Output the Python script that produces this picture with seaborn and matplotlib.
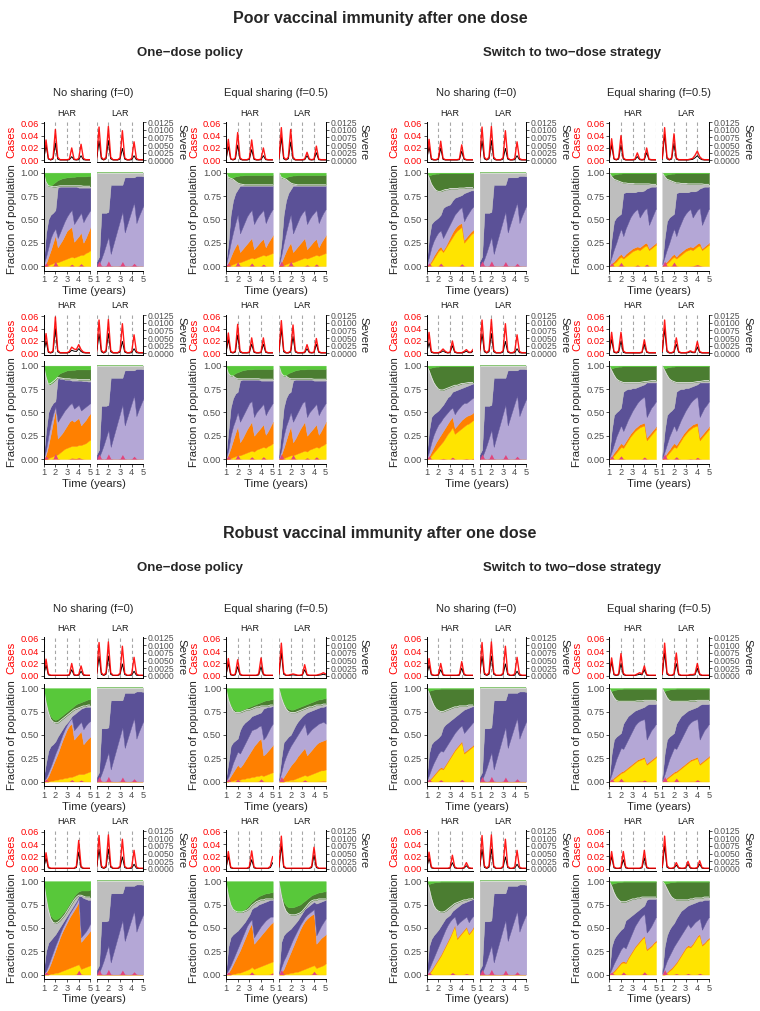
import matplotlib
matplotlib.use("Agg")
import matplotlib.pyplot as plt
from matplotlib.ticker import FormatStrFormatter
import seaborn as sns

# ---------------------------------------------------------------- data
years = [1.0, 1.2, 1.4, 1.6, 1.8, 2.0, 2.2, 2.4, 2.6, 2.8, 3.0,
         3.2, 3.4, 3.6, 3.8, 4.0, 4.2, 4.4, 4.6, 4.8, 5.0]

section_titles = ["Poor vaccinal immunity after one dose",
                  "Robust vaccinal immunity after one dose"]
policy_titles = ["One\u2212dose policy", "Switch to two\u2212dose strategy"]
sharing_titles = ["No sharing (f=0)", "Equal sharing (f=0.5)",
                  "No sharing (f=0)", "Equal sharing (f=0.5)"]
regions = ["HAR", "LAR"]
cases_ticks = [0.00, 0.02, 0.04, 0.06]
severe_ticks = [0.0, 0.0025, 0.005, 0.0075, 0.01, 0.0125]
frac_ticks = [0.0, 0.25, 0.5, 0.75, 1.0]
year_ticks = [1, 2, 3, 4, 5]

zeros = [0.0] * 21
no_green = [1.0] * 21
sliver = [1.0, 0.97, 0.98, 0.985, 0.99, 0.99, 0.995, 0.995, 0.995, 0.995, 0.995,
          0.995, 0.995, 0.995, 0.995, 0.995, 0.995, 0.995, 0.995, 0.995, 0.995]

# epidemic curves: cases (left axis) and severe (right axis)
# LAR without sharing (same in every no-sharing block)
cases_lar_nos = [.003, .054, .005, .001, .005, .055, .005, .001, .001, .001, .004,
                 .048, .004, .001, .001, .003, .030, .003, .001, .001, .001]
severe_lar_nos = [.0003, .0064, .0005, .0001, .0005, .0065, .0005, .0001, .0001, .0001, .0004,
                  .0039, .0004, .0001, .0001, .0002, .0015, .0002, .0001, .0001, .0001]
# poor immunity, row 1
cases_A_har = [.002, .033, .003, .001, .004, .050, .005, .001, .001, .001, .001,
               .002, .020, .002, .001, .003, .026, .003, .001, .001, .001]
severe_A_har = [.0002, .0050, .0004, .0001, .0004, .0056, .0004, .0001, .0001, .0001, .0001,
                .0002, .0012, .0002, .0001, .0002, .0015, .0002, .0001, .0001, .0001]
cases_B_har = [.002, .034, .003, .001, .004, .045, .004, .001, .001, .001, .003,
               .033, .003, .001, .001, .002, .020, .002, .001, .001, .001]
severe_B_har = [.0002, .0045, .0004, .0001, .0004, .0050, .0004, .0001, .0001, .0001, .0003,
                .0035, .0003, .0001, .0001, .0002, .0015, .0002, .0001, .0001, .0001]
cases_B_lar = [.003, .053, .005, .001, .005, .050, .005, .001, .001, .001, .001,
               .002, .013, .002, .001, .002, .023, .002, .001, .001, .001]
severe_B_lar = [.0003, .0075, .0005, .0001, .0005, .0060, .0005, .0001, .0001, .0001, .0001,
                .0002, .0015, .0002, .0001, .0002, .0025, .0002, .0001, .0001, .0001]
cases_C_har = [.002, .034, .003, .001, .001, .003, .031, .003, .001, .001, .001,
               .001, .001, .001, .002, .025, .003, .001, .001, .001, .001]
severe_C_har = [.0002, .0045, .0003, .0001, .0001, .0003, .0040, .0003, .0001, .0001, .0001,
                .0001, .0001, .0001, .0002, .0030, .0003, .0001, .0001, .0001, .0001]
cases_D_har = [.002, .035, .003, .001, .004, .040, .004, .001, .001, .001, .001,
               .002, .012, .002, .001, .002, .020, .002, .001, .001, .001]
severe_D_har = [.0002, .0050, .0004, .0001, .0004, .0050, .0004, .0001, .0001, .0001, .0001,
                .0002, .0012, .0002, .0001, .0002, .0025, .0002, .0001, .0001, .0001]
cases_D_lar = [.003, .053, .005, .001, .004, .043, .004, .001, .001, .001, .001,
               .001, .002, .003, .008, .015, .006, .002, .001, .001, .001]
severe_D_lar = [.0003, .0085, .0005, .0001, .0004, .0055, .0004, .0001, .0001, .0001, .0001,
                .0001, .0002, .0003, .0008, .0015, .0006, .0002, .0001, .0001, .0001]
# poor immunity, row 2
cases_E_har = [.002, .032, .003, .001, .004, .059, .005, .001, .001, .001, .001,
               .003, .010, .007, .006, .014, .006, .002, .001, .001, .001]
severe_E_har = [.0002, .0040, .0003, .0001, .0004, .0080, .0005, .0001, .0001, .0001, .0001,
                .0003, .0010, .0007, .0006, .0015, .0006, .0002, .0001, .0001, .0001]
cases_F_har = [.002, .033, .003, .001, .004, .047, .004, .001, .001, .001, .002,
               .025, .003, .001, .001, .002, .025, .003, .001, .001, .001]
severe_F_har = [.0002, .0045, .0003, .0001, .0004, .0060, .0004, .0001, .0001, .0001, .0002,
                .0030, .0003, .0001, .0001, .0002, .0030, .0003, .0001, .0001, .0001]
cases_F_lar = [.003, .053, .005, .001, .001, .004, .046, .004, .001, .001, .001,
               .002, .014, .002, .001, .002, .024, .003, .001, .001, .001]
severe_F_lar = [.0003, .0080, .0005, .0001, .0001, .0004, .0055, .0004, .0001, .0001, .0001,
                .0002, .0015, .0002, .0001, .0002, .0030, .0003, .0001, .0001, .0001]
cases_G_har = [.002, .034, .003, .001, .001, .001, .003, .007, .003, .001, .002,
               .020, .003, .001, .001, .001, .003, .006, .002, .002, .007]
severe_G_har = [.0002, .0035, .0003, .0001, .0001, .0001, .0003, .0008, .0003, .0001, .0002,
                .0025, .0003, .0001, .0001, .0001, .0003, .0007, .0002, .0002, .0008]
cases_H_har = [.002, .034, .003, .001, .004, .034, .004, .001, .001, .001, .001,
               .001, .001, .001, .002, .022, .003, .001, .001, .001, .001]
severe_H_har = [.0002, .0045, .0003, .0001, .0003, .0040, .0003, .0001, .0001, .0001, .0001,
                .0001, .0001, .0001, .0002, .0030, .0003, .0001, .0001, .0001, .0001]
cases_H_lar = [.003, .054, .005, .001, .001, .003, .025, .003, .001, .001, .001,
               .002, .004, .002, .002, .019, .003, .001, .001, .001, .001]
severe_H_lar = [.0003, .0080, .0005, .0001, .0001, .0003, .0030, .0003, .0001, .0001, .0001,
                .0002, .0005, .0002, .0002, .0020, .0003, .0001, .0001, .0001, .0001]
# robust immunity, row 1
cases_I_har = [.002, .027, .003, .001, .001, .001, .001, .001, .001, .001, .001,
               .002, .020, .002, .001, .002, .016, .002, .001, .001, .001]
severe_I_har = [.0002, .0035, .0003, .0001, .0001, .0001, .0001, .0001, .0001, .0001, .0001,
                .0002, .0020, .0002, .0001, .0002, .0015, .0002, .0001, .0001, .0001]
cases_J_har = [.002, .028, .003, .001, .003, .026, .003, .001, .001, .001, .001,
               .001, .001, .001, .003, .029, .003, .001, .001, .001, .001]
severe_J_har = [.0002, .0040, .0003, .0001, .0003, .0030, .0003, .0001, .0001, .0001, .0001,
                .0001, .0001, .0001, .0003, .0030, .0003, .0001, .0001, .0001, .0001]
cases_J_lar = [.003, .053, .005, .001, .001, .002, .003, .002, .001, .001, .002,
               .018, .002, .001, .001, .001, .001, .002, .003, .005, .003]
severe_J_lar = [.0003, .0075, .0005, .0001, .0001, .0002, .0003, .0002, .0001, .0001, .0002,
                .0020, .0002, .0001, .0001, .0001, .0001, .0002, .0003, .0005, .0003]
cases_K_har = [.002, .028, .003, .001, .001, .002, .020, .002, .001, .001, .001,
               .001, .001, .001, .002, .023, .003, .001, .001, .001, .001]
severe_K_har = [.0002, .0035, .0003, .0001, .0001, .0002, .0020, .0002, .0001, .0001, .0001,
                .0001, .0001, .0001, .0002, .0025, .0003, .0001, .0001, .0001, .0001]
cases_L_har = [.002, .029, .003, .001, .003, .036, .004, .001, .001, .001, .001,
               .001, .003, .005, .003, .016, .002, .001, .001, .001, .001]
severe_L_har = [.0002, .0045, .0003, .0001, .0003, .0040, .0004, .0001, .0001, .0001, .0001,
                .0001, .0003, .0005, .0003, .0020, .0002, .0001, .0001, .0001, .0001]
cases_L_lar = [.003, .053, .005, .001, .001, .003, .037, .003, .001, .001, .001,
               .001, .002, .002, .003, .020, .003, .001, .001, .001, .001]
severe_L_lar = [.0003, .0075, .0005, .0001, .0001, .0003, .0040, .0003, .0001, .0001, .0001,
                .0001, .0002, .0002, .0003, .0025, .0003, .0001, .0001, .0001, .0001]
# robust immunity, row 2
cases_M_har = [.002, .026, .003, .001, .001, .001, .001, .001, .001, .001, .001,
               .001, .001, .001, .004, .046, .004, .001, .001, .001, .001]
severe_M_har = [.0002, .0035, .0003, .0001, .0001, .0001, .0001, .0001, .0001, .0001, .0001,
                .0001, .0001, .0001, .0004, .0055, .0004, .0001, .0001, .0001, .0001]
cases_N_har = [.002, .028, .003, .001, .001, .001, .001, .001, .001, .001, .003,
               .029, .003, .001, .001, .001, .001, .001, .001, .004, .020]
severe_N_har = [.0002, .0040, .0003, .0001, .0001, .0001, .0001, .0001, .0001, .0001, .0003,
                .0030, .0003, .0001, .0001, .0001, .0001, .0001, .0001, .0004, .0020]
cases_N_lar = [.003, .053, .005, .001, .001, .001, .001, .001, .001, .001, .001,
               .001, .001, .001, .004, .035, .004, .001, .001, .001, .001]
severe_N_lar = [.0003, .0075, .0005, .0001, .0001, .0001, .0001, .0001, .0001, .0001, .0001,
                .0001, .0001, .0001, .0004, .0045, .0004, .0001, .0001, .0001, .0001]
cases_O_har = [.002, .027, .003, .001, .001, .001, .001, .001, .001, .001, .002,
               .022, .003, .001, .001, .001, .002, .010, .002, .001, .001]
severe_O_har = [.0002, .0035, .0003, .0001, .0001, .0001, .0001, .0001, .0001, .0001, .0002,
                .0020, .0003, .0001, .0001, .0001, .0002, .0010, .0002, .0001, .0001]
cases_P_har = [.002, .028, .003, .001, .001, .002, .028, .003, .001, .001, .001,
               .001, .001, .001, .003, .030, .003, .001, .001, .001, .001]
severe_P_har = [.0002, .0040, .0003, .0001, .0001, .0002, .0030, .0003, .0001, .0001, .0001,
                .0001, .0001, .0001, .0003, .0035, .0003, .0001, .0001, .0001, .0001]
cases_P_lar = [.003, .053, .005, .001, .001, .002, .010, .002, .001, .001, .002,
               .012, .002, .001, .001, .002, .013, .002, .001, .001, .001]
severe_P_lar = [.0003, .0075, .0005, .0001, .0001, .0002, .0012, .0002, .0001, .0001, .0002,
                .0015, .0002, .0001, .0001, .0002, .0015, .0002, .0001, .0001, .0001]

# population states, cumulative boundaries:
# [yellow top, orange top, lavender top, purple top, dark-green bottom, light-green bottom]
area_lar_nos = [
    zeros, zeros,
    [0.0, 0.02, 0.08, 0.15, 0.23, 0.31, 0.13, 0.22, 0.31, 0.40, 0.49,
     0.58, 0.36, 0.44, 0.52, 0.60, 0.68, 0.46, 0.53, 0.59, 0.65],
    [0.05, 0.10, 0.57, 0.57, 0.57, 0.58, 0.87, 0.87, 0.87, 0.87, 0.87,
     0.87, 0.95, 0.95, 0.95, 0.95, 0.95, 0.965, 0.965, 0.965, 0.96],
    no_green, no_green]
area_A_har = [
    [0, 0, 0.01, 0.02, 0.03, 0.04, 0.04, 0.05, 0.06, 0.07, 0.08,
     0.09, 0.10, 0.09, 0.10, 0.11, 0.12, 0.12, 0.14, 0.15, 0.17],
    [0, 0.03, 0.10, 0.17, 0.25, 0.33, 0.20, 0.24, 0.28, 0.33, 0.38,
     0.40, 0.42, 0.26, 0.29, 0.32, 0.36, 0.25, 0.30, 0.36, 0.42],
    [0.02, 0.10, 0.20, 0.30, 0.36, 0.40, 0.30, 0.36, 0.42, 0.48, 0.53,
     0.57, 0.60, 0.45, 0.49, 0.53, 0.57, 0.47, 0.52, 0.56, 0.60],
    [0.05, 0.35, 0.50, 0.55, 0.57, 0.60, 0.84, 0.85, 0.85, 0.85, 0.85,
     0.85, 0.85, 0.85, 0.85, 0.84, 0.84, 0.84, 0.84, 0.84, 0.84],
    [1.0, 0.90, 0.86, 0.855, 0.85, 0.85, 0.855, 0.86, 0.86, 0.86, 0.86,
     0.86, 0.86, 0.86, 0.86, 0.86, 0.86, 0.855, 0.855, 0.855, 0.855],
    [1.0, 0.90, 0.86, 0.86, 0.88, 0.90, 0.92, 0.93, 0.94, 0.945, 0.95,
     0.95, 0.955, 0.955, 0.96, 0.96, 0.96, 0.96, 0.96, 0.965, 0.965]]
area_B = [
    [0, 0, 0.01, 0.02, 0.03, 0.04, 0.04, 0.05, 0.06, 0.07, 0.08,
     0.09, 0.08, 0.09, 0.10, 0.11, 0.12, 0.11, 0.12, 0.13, 0.14],
    [0, 0.04, 0.10, 0.16, 0.21, 0.25, 0.15, 0.18, 0.21, 0.24, 0.27,
     0.30, 0.18, 0.21, 0.24, 0.27, 0.29, 0.20, 0.25, 0.29, 0.33],
    [0.02, 0.12, 0.25, 0.36, 0.46, 0.55, 0.35, 0.41, 0.47, 0.53, 0.57,
     0.60, 0.45, 0.50, 0.54, 0.57, 0.60, 0.46, 0.52, 0.57, 0.61],
    [0.05, 0.25, 0.55, 0.70, 0.78, 0.82, 0.86, 0.86, 0.86, 0.86, 0.86,
     0.86, 0.86, 0.86, 0.86, 0.86, 0.86, 0.86, 0.86, 0.86, 0.86],
    [1.0, 0.95, 0.94, 0.93, 0.91, 0.89, 0.88, 0.875, 0.87, 0.87, 0.87,
     0.87, 0.87, 0.87, 0.87, 0.87, 0.87, 0.87, 0.87, 0.87, 0.87],
    [1.0, 0.95, 0.94, 0.95, 0.96, 0.965, 0.97, 0.97, 0.975, 0.975, 0.975,
     0.975, 0.975, 0.975, 0.975, 0.975, 0.975, 0.975, 0.975, 0.975, 0.975]]
area_C_har = [
    [0, 0.01, 0.04, 0.08, 0.12, 0.16, 0.18, 0.15, 0.19, 0.23, 0.27,
     0.31, 0.35, 0.38, 0.40, 0.42, 0.25, 0.28, 0.31, 0.34, 0.36],
    [0, 0.02, 0.06, 0.11, 0.15, 0.19, 0.21, 0.17, 0.21, 0.26, 0.31,
     0.36, 0.40, 0.43, 0.45, 0.46, 0.28, 0.31, 0.34, 0.37, 0.39],
    [0.02, 0.10, 0.20, 0.27, 0.32, 0.36, 0.38, 0.30, 0.35, 0.40, 0.45,
     0.50, 0.55, 0.58, 0.61, 0.63, 0.48, 0.53, 0.57, 0.61, 0.64],
    [0.05, 0.30, 0.45, 0.48, 0.50, 0.52, 0.55, 0.62, 0.64, 0.65, 0.66,
     0.70, 0.73, 0.74, 0.75, 0.76, 0.78, 0.79, 0.80, 0.81, 0.81],
    [1.0, 0.95, 0.88, 0.84, 0.81, 0.80, 0.80, 0.81, 0.82, 0.82, 0.83,
     0.83, 0.83, 0.83, 0.835, 0.835, 0.835, 0.84, 0.84, 0.84, 0.84],
    sliver]
area_D = [
    [0, 0.01, 0.03, 0.05, 0.08, 0.10, 0.08, 0.10, 0.12, 0.14, 0.16,
     0.17, 0.18, 0.17, 0.19, 0.21, 0.22, 0.17, 0.19, 0.21, 0.23],
    [0, 0.03, 0.05, 0.08, 0.11, 0.13, 0.10, 0.13, 0.15, 0.17, 0.19,
     0.20, 0.21, 0.20, 0.22, 0.24, 0.25, 0.19, 0.21, 0.23, 0.25],
    [0.02, 0.10, 0.18, 0.25, 0.33, 0.40, 0.32, 0.40, 0.46, 0.52, 0.56,
     0.59, 0.61, 0.52, 0.56, 0.60, 0.62, 0.44, 0.50, 0.56, 0.62],
    [0.04, 0.30, 0.48, 0.52, 0.54, 0.56, 0.78, 0.79, 0.79, 0.79, 0.79,
     0.79, 0.80, 0.80, 0.80, 0.81, 0.83, 0.84, 0.85, 0.85, 0.85],
    [1.0, 0.96, 0.93, 0.92, 0.91, 0.90, 0.89, 0.89, 0.885, 0.885, 0.885,
     0.88, 0.88, 0.88, 0.88, 0.88, 0.88, 0.88, 0.875, 0.875, 0.875],
    sliver]
area_E_har = [
    [0, 0, 0.01, 0.02, 0.03, 0.04, 0.05, 0.07, 0.09, 0.11, 0.12,
     0.13, 0.14, 0.14, 0.14, 0.15, 0.15, 0.16, 0.17, 0.19, 0.21],
    [0, 0.05, 0.15, 0.27, 0.40, 0.53, 0.22, 0.25, 0.28, 0.32, 0.36,
     0.40, 0.42, 0.40, 0.42, 0.44, 0.36, 0.39, 0.42, 0.46, 0.49],
    [0.01, 0.10, 0.25, 0.38, 0.48, 0.56, 0.40, 0.44, 0.48, 0.52, 0.55,
     0.58, 0.60, 0.54, 0.56, 0.58, 0.52, 0.54, 0.56, 0.58, 0.60],
    [0.05, 0.30, 0.50, 0.56, 0.60, 0.62, 0.87, 0.86, 0.86, 0.85, 0.85,
     0.85, 0.84, 0.84, 0.84, 0.84, 0.84, 0.835, 0.835, 0.83, 0.83],
    [1.0, 0.88, 0.80, 0.81, 0.83, 0.85, 0.875, 0.87, 0.865, 0.86, 0.86,
     0.86, 0.855, 0.855, 0.855, 0.85, 0.85, 0.85, 0.85, 0.85, 0.85],
    [1.0, 0.88, 0.80, 0.81, 0.83, 0.86, 0.90, 0.92, 0.93, 0.94, 0.95,
     0.95, 0.955, 0.955, 0.96, 0.96, 0.96, 0.96, 0.96, 0.96, 0.96]]
area_F = [
    [0, 0, 0.01, 0.02, 0.03, 0.04, 0.04, 0.05, 0.06, 0.07, 0.08,
     0.09, 0.08, 0.10, 0.11, 0.12, 0.13, 0.12, 0.14, 0.15, 0.17],
    [0, 0.05, 0.12, 0.20, 0.28, 0.35, 0.18, 0.22, 0.27, 0.32, 0.36,
     0.40, 0.25, 0.28, 0.31, 0.34, 0.37, 0.26, 0.30, 0.35, 0.40],
    [0.01, 0.10, 0.25, 0.35, 0.42, 0.50, 0.40, 0.45, 0.50, 0.55, 0.60,
     0.62, 0.45, 0.50, 0.53, 0.56, 0.59, 0.47, 0.52, 0.56, 0.60],
    [0.05, 0.30, 0.55, 0.65, 0.70, 0.72, 0.84, 0.85, 0.85, 0.85, 0.85,
     0.85, 0.85, 0.85, 0.85, 0.84, 0.84, 0.84, 0.84, 0.84, 0.84],
    [1.0, 0.92, 0.89, 0.89, 0.87, 0.86, 0.86, 0.86, 0.86, 0.86, 0.86,
     0.86, 0.86, 0.86, 0.86, 0.855, 0.855, 0.855, 0.855, 0.855, 0.855],
    [1.0, 0.92, 0.89, 0.90, 0.92, 0.93, 0.94, 0.95, 0.955, 0.96, 0.96,
     0.96, 0.965, 0.965, 0.965, 0.965, 0.965, 0.965, 0.965, 0.965, 0.965]]
area_G_har = [
    [0, 0.01, 0.04, 0.07, 0.10, 0.13, 0.16, 0.19, 0.23, 0.27, 0.30,
     0.34, 0.27, 0.29, 0.31, 0.33, 0.35, 0.37, 0.38, 0.40, 0.42],
    [0, 0.03, 0.08, 0.13, 0.18, 0.22, 0.26, 0.30, 0.34, 0.38, 0.42,
     0.45, 0.33, 0.36, 0.39, 0.42, 0.44, 0.46, 0.47, 0.48, 0.50],
    [0.01, 0.08, 0.18, 0.26, 0.32, 0.37, 0.40, 0.44, 0.47, 0.50, 0.53,
     0.55, 0.48, 0.52, 0.55, 0.58, 0.60, 0.60, 0.62, 0.64, 0.66],
    [0.05, 0.30, 0.45, 0.48, 0.50, 0.52, 0.55, 0.58, 0.62, 0.66, 0.68,
     0.72, 0.73, 0.74, 0.75, 0.76, 0.77, 0.78, 0.79, 0.80, 0.81],
    [1.0, 0.95, 0.88, 0.82, 0.78, 0.75, 0.74, 0.74, 0.75, 0.76, 0.77,
     0.78, 0.79, 0.79, 0.80, 0.81, 0.81, 0.815, 0.82, 0.82, 0.82],
    sliver]
area_H = [
    [0, 0.01, 0.04, 0.07, 0.10, 0.13, 0.12, 0.16, 0.20, 0.24, 0.27,
     0.30, 0.32, 0.34, 0.35, 0.36, 0.20, 0.23, 0.26, 0.29, 0.32],
    [0, 0.03, 0.07, 0.10, 0.14, 0.17, 0.15, 0.19, 0.23, 0.27, 0.30,
     0.33, 0.35, 0.37, 0.38, 0.39, 0.23, 0.26, 0.29, 0.32, 0.35],
    [0.01, 0.08, 0.16, 0.24, 0.30, 0.36, 0.30, 0.36, 0.42, 0.47, 0.52,
     0.56, 0.60, 0.63, 0.65, 0.67, 0.45, 0.50, 0.55, 0.58, 0.62],
    [0.04, 0.30, 0.47, 0.50, 0.52, 0.55, 0.72, 0.74, 0.75, 0.75, 0.76,
     0.76, 0.77, 0.78, 0.79, 0.80, 0.82, 0.82, 0.82, 0.82, 0.82],
    [1.0, 0.95, 0.90, 0.86, 0.84, 0.83, 0.82, 0.82, 0.82, 0.82, 0.82,
     0.82, 0.82, 0.82, 0.825, 0.83, 0.83, 0.835, 0.84, 0.84, 0.84],
    sliver]
area_I_har = [
    [0, 0, 0, 0.01, 0.01, 0.02, 0.02, 0.03, 0.03, 0.04, 0.04,
     0.05, 0.05, 0.06, 0.07, 0.08, 0.08, 0.08, 0.09, 0.10, 0.11],
    [0, 0.02, 0.06, 0.12, 0.18, 0.24, 0.30, 0.37, 0.44, 0.50, 0.56,
     0.60, 0.62, 0.45, 0.48, 0.51, 0.54, 0.40, 0.43, 0.46, 0.48],
    [0.01, 0.04, 0.10, 0.16, 0.23, 0.30, 0.36, 0.43, 0.50, 0.56, 0.61,
     0.65, 0.68, 0.55, 0.58, 0.61, 0.64, 0.56, 0.60, 0.63, 0.65],
    [0.05, 0.20, 0.33, 0.38, 0.40, 0.43, 0.48, 0.52, 0.56, 0.60, 0.63,
     0.66, 0.70, 0.72, 0.74, 0.76, 0.78, 0.79, 0.80, 0.80, 0.80],
    [1.0, 0.85, 0.74, 0.67, 0.64, 0.63, 0.63, 0.65, 0.67, 0.69, 0.71,
     0.73, 0.75, 0.77, 0.78, 0.79, 0.80, 0.81, 0.81, 0.82, 0.82],
    [1.0, 0.85, 0.75, 0.70, 0.67, 0.66, 0.67, 0.69, 0.71, 0.73, 0.75,
     0.77, 0.79, 0.81, 0.83, 0.84, 0.85, 0.86, 0.87, 0.88, 0.88]]
area_J_har = [
    [0, 0, 0.01, 0.01, 0.02, 0.02, 0.02, 0.03, 0.03, 0.04, 0.04,
     0.05, 0.05, 0.06, 0.06, 0.07, 0.06, 0.07, 0.08, 0.09, 0.10],
    [0, 0.02, 0.06, 0.10, 0.14, 0.18, 0.15, 0.18, 0.22, 0.26, 0.30,
     0.34, 0.38, 0.41, 0.44, 0.46, 0.28, 0.30, 0.33, 0.36, 0.39],
    [0.01, 0.05, 0.12, 0.20, 0.26, 0.32, 0.30, 0.35, 0.40, 0.45, 0.50,
     0.55, 0.56, 0.57, 0.59, 0.60, 0.45, 0.48, 0.53, 0.58, 0.62],
    [0.04, 0.20, 0.38, 0.42, 0.44, 0.46, 0.55, 0.60, 0.63, 0.65, 0.67,
     0.70, 0.71, 0.72, 0.73, 0.74, 0.78, 0.79, 0.80, 0.80, 0.81],
    [1.0, 0.88, 0.81, 0.76, 0.74, 0.74, 0.74, 0.75, 0.76, 0.77, 0.77,
     0.78, 0.79, 0.80, 0.80, 0.81, 0.81, 0.81, 0.81, 0.82, 0.82],
    [1.0, 0.88, 0.82, 0.78, 0.76, 0.75, 0.76, 0.77, 0.78, 0.79, 0.80,
     0.81, 0.82, 0.83, 0.84, 0.85, 0.86, 0.87, 0.87, 0.88, 0.88]]
area_J_lar = [
    [0, 0, 0, 0.01, 0.01, 0.02, 0.02, 0.03, 0.04, 0.05, 0.06,
     0.07, 0.06, 0.07, 0.08, 0.09, 0.10, 0.11, 0.12, 0.12, 0.13],
    [0, 0.02, 0.05, 0.09, 0.13, 0.17, 0.20, 0.23, 0.27, 0.30, 0.33,
     0.36, 0.28, 0.31, 0.34, 0.37, 0.40, 0.42, 0.43, 0.44, 0.45],
    [0.01, 0.10, 0.20, 0.27, 0.33, 0.38, 0.42, 0.46, 0.50, 0.54, 0.58,
     0.62, 0.50, 0.53, 0.56, 0.58, 0.60, 0.62, 0.63, 0.64, 0.62],
    [0.04, 0.25, 0.42, 0.45, 0.48, 0.50, 0.55, 0.60, 0.64, 0.67, 0.70,
     0.72, 0.74, 0.75, 0.76, 0.77, 0.78, 0.79, 0.80, 0.80, 0.81],
    [1.0, 0.90, 0.83, 0.78, 0.75, 0.74, 0.74, 0.74, 0.75, 0.76, 0.77,
     0.78, 0.79, 0.80, 0.80, 0.81, 0.82, 0.82, 0.82, 0.83, 0.83],
    [1.0, 0.90, 0.84, 0.80, 0.78, 0.77, 0.77, 0.78, 0.79, 0.80, 0.81,
     0.82, 0.83, 0.84, 0.85, 0.86, 0.87, 0.88, 0.88, 0.89, 0.89]]
area_K_har = [
    [0, 0.01, 0.03, 0.06, 0.09, 0.12, 0.14, 0.13, 0.17, 0.21, 0.25,
     0.29, 0.33, 0.36, 0.39, 0.42, 0.30, 0.32, 0.34, 0.36, 0.38],
    [0, 0.02, 0.045, 0.075, 0.105, 0.135, 0.155, 0.145, 0.185, 0.225, 0.265,
     0.305, 0.345, 0.375, 0.405, 0.435, 0.315, 0.335, 0.355, 0.375, 0.395],
    [0.01, 0.07, 0.14, 0.20, 0.25, 0.30, 0.33, 0.32, 0.36, 0.40, 0.44,
     0.48, 0.52, 0.55, 0.58, 0.60, 0.52, 0.55, 0.58, 0.61, 0.64],
    [0.04, 0.30, 0.40, 0.43, 0.45, 0.47, 0.50, 0.58, 0.61, 0.63, 0.65,
     0.67, 0.69, 0.71, 0.73, 0.75, 0.77, 0.78, 0.79, 0.80, 0.81],
    [1.0, 0.95, 0.88, 0.82, 0.78, 0.76, 0.75, 0.75, 0.76, 0.77, 0.78,
     0.79, 0.80, 0.80, 0.81, 0.81, 0.81, 0.81, 0.82, 0.82, 0.82],
    sliver]
area_L = [
    [0, 0.01, 0.03, 0.05, 0.07, 0.09, 0.10, 0.12, 0.14, 0.16, 0.18,
     0.20, 0.22, 0.23, 0.24, 0.25, 0.18, 0.20, 0.22, 0.24, 0.26],
    [0, 0.02, 0.045, 0.065, 0.085, 0.105, 0.115, 0.135, 0.155, 0.175, 0.195,
     0.215, 0.235, 0.245, 0.255, 0.265, 0.195, 0.215, 0.235, 0.255, 0.275],
    [0.01, 0.08, 0.16, 0.24, 0.30, 0.36, 0.35, 0.40, 0.45, 0.50, 0.55,
     0.60, 0.63, 0.65, 0.66, 0.67, 0.45, 0.50, 0.55, 0.58, 0.62],
    [0.04, 0.30, 0.45, 0.48, 0.50, 0.52, 0.62, 0.66, 0.70, 0.72, 0.74,
     0.76, 0.77, 0.78, 0.79, 0.80, 0.82, 0.83, 0.83, 0.83, 0.83],
    [1.0, 0.95, 0.90, 0.87, 0.86, 0.86, 0.86, 0.86, 0.86, 0.86, 0.86,
     0.86, 0.865, 0.865, 0.865, 0.87, 0.87, 0.87, 0.87, 0.87, 0.87],
    sliver]
area_M_har = [
    [0, 0, 0, 0.01, 0.01, 0.02, 0.02, 0.03, 0.04, 0.05, 0.06,
     0.07, 0.08, 0.09, 0.10, 0.11, 0.06, 0.07, 0.08, 0.09, 0.10],
    [0, 0.02, 0.06, 0.12, 0.19, 0.26, 0.33, 0.40, 0.46, 0.51, 0.56,
     0.61, 0.65, 0.69, 0.73, 0.78, 0.35, 0.38, 0.41, 0.44, 0.47],
    [0.01, 0.04, 0.10, 0.17, 0.24, 0.31, 0.37, 0.44, 0.50, 0.55, 0.60,
     0.65, 0.69, 0.73, 0.77, 0.82, 0.40, 0.43, 0.46, 0.50, 0.55],
    [0.05, 0.25, 0.34, 0.37, 0.40, 0.43, 0.47, 0.51, 0.55, 0.59, 0.63,
     0.67, 0.71, 0.75, 0.79, 0.84, 0.84, 0.82, 0.81, 0.80, 0.80],
    [1.0, 0.83, 0.69, 0.60, 0.56, 0.55, 0.56, 0.58, 0.61, 0.64, 0.68,
     0.72, 0.76, 0.80, 0.83, 0.85, 0.85, 0.84, 0.83, 0.83, 0.83],
    [1.0, 0.83, 0.70, 0.63, 0.60, 0.59, 0.60, 0.62, 0.65, 0.68, 0.72,
     0.76, 0.80, 0.84, 0.87, 0.89, 0.90, 0.90, 0.90, 0.90, 0.91]]
area_N_har = [
    [0, 0, 0, 0.01, 0.01, 0.02, 0.02, 0.03, 0.04, 0.05, 0.06,
     0.08, 0.06, 0.07, 0.08, 0.09, 0.10, 0.11, 0.12, 0.13, 0.14],
    [0, 0.02, 0.06, 0.11, 0.16, 0.21, 0.26, 0.32, 0.38, 0.44, 0.50,
     0.55, 0.33, 0.36, 0.39, 0.42, 0.45, 0.48, 0.51, 0.54, 0.56],
    [0.01, 0.05, 0.10, 0.16, 0.22, 0.28, 0.34, 0.40, 0.46, 0.52, 0.56,
     0.59, 0.40, 0.44, 0.48, 0.52, 0.55, 0.58, 0.60, 0.62, 0.62],
    [0.04, 0.30, 0.40, 0.43, 0.45, 0.47, 0.50, 0.53, 0.56, 0.60, 0.64,
     0.70, 0.72, 0.73, 0.75, 0.76, 0.77, 0.78, 0.79, 0.80, 0.80],
    [1.0, 0.85, 0.75, 0.70, 0.68, 0.67, 0.67, 0.67, 0.68, 0.69, 0.71,
     0.74, 0.76, 0.78, 0.79, 0.80, 0.80, 0.81, 0.81, 0.81, 0.81],
    [1.0, 0.85, 0.75, 0.70, 0.68, 0.67, 0.67, 0.68, 0.70, 0.72, 0.75,
     0.78, 0.80, 0.82, 0.84, 0.85, 0.86, 0.87, 0.87, 0.88, 0.88]]
area_N_lar = [
    [0, 0, 0, 0.01, 0.01, 0.02, 0.02, 0.03, 0.03, 0.04, 0.05,
     0.06, 0.07, 0.08, 0.09, 0.10, 0.07, 0.08, 0.09, 0.10, 0.12],
    [0, 0.02, 0.06, 0.12, 0.18, 0.24, 0.30, 0.36, 0.42, 0.48, 0.53,
     0.57, 0.60, 0.62, 0.64, 0.65, 0.33, 0.36, 0.39, 0.41, 0.43],
    [0.01, 0.08, 0.15, 0.20, 0.26, 0.32, 0.38, 0.43, 0.48, 0.53, 0.57,
     0.61, 0.64, 0.66, 0.68, 0.70, 0.42, 0.47, 0.52, 0.56, 0.60],
    [0.04, 0.35, 0.42, 0.45, 0.47, 0.49, 0.52, 0.55, 0.58, 0.62, 0.66,
     0.70, 0.72, 0.74, 0.76, 0.78, 0.76, 0.77, 0.78, 0.79, 0.80],
    [1.0, 0.85, 0.74, 0.68, 0.65, 0.64, 0.64, 0.64, 0.65, 0.66, 0.68,
     0.71, 0.74, 0.77, 0.79, 0.80, 0.80, 0.81, 0.81, 0.81, 0.81],
    [1.0, 0.86, 0.78, 0.74, 0.72, 0.72, 0.72, 0.73, 0.74, 0.75, 0.77,
     0.79, 0.81, 0.83, 0.85, 0.86, 0.87, 0.88, 0.88, 0.89, 0.89]]
area_O_har = [
    [0, 0.01, 0.04, 0.08, 0.12, 0.16, 0.20, 0.25, 0.30, 0.35, 0.40,
     0.46, 0.52, 0.38, 0.41, 0.44, 0.47, 0.50, 0.43, 0.46, 0.50],
    [0, 0.02, 0.055, 0.095, 0.135, 0.175, 0.215, 0.265, 0.315, 0.365, 0.415,
     0.475, 0.535, 0.395, 0.425, 0.455, 0.485, 0.515, 0.445, 0.475, 0.515],
    [0.01, 0.06, 0.12, 0.18, 0.24, 0.30, 0.36, 0.42, 0.48, 0.53, 0.57,
     0.60, 0.62, 0.53, 0.56, 0.58, 0.60, 0.62, 0.56, 0.60, 0.63],
    [0.04, 0.30, 0.38, 0.42, 0.45, 0.48, 0.52, 0.56, 0.60, 0.62, 0.64,
     0.68, 0.70, 0.72, 0.74, 0.76, 0.77, 0.78, 0.79, 0.80, 0.81],
    [1.0, 0.93, 0.82, 0.74, 0.70, 0.68, 0.67, 0.67, 0.68, 0.70, 0.72,
     0.74, 0.76, 0.77, 0.78, 0.79, 0.80, 0.80, 0.81, 0.81, 0.82],
    sliver]
area_P_har = [
    [0, 0.01, 0.03, 0.06, 0.09, 0.12, 0.13, 0.12, 0.17, 0.21, 0.25,
     0.29, 0.32, 0.35, 0.38, 0.40, 0.26, 0.28, 0.30, 0.33, 0.35],
    [0, 0.02, 0.045, 0.075, 0.105, 0.135, 0.145, 0.135, 0.185, 0.225, 0.265,
     0.305, 0.335, 0.365, 0.395, 0.415, 0.275, 0.295, 0.315, 0.345, 0.365],
    [0.01, 0.06, 0.12, 0.17, 0.22, 0.27, 0.30, 0.28, 0.34, 0.40, 0.46,
     0.52, 0.56, 0.60, 0.63, 0.65, 0.45, 0.48, 0.52, 0.57, 0.62],
    [0.04, 0.30, 0.38, 0.42, 0.45, 0.48, 0.50, 0.58, 0.60, 0.62, 0.64,
     0.66, 0.68, 0.70, 0.72, 0.74, 0.80, 0.81, 0.81, 0.81, 0.81],
    [1.0, 0.95, 0.88, 0.83, 0.80, 0.78, 0.78, 0.78, 0.79, 0.80, 0.81,
     0.81, 0.82, 0.82, 0.83, 0.83, 0.83, 0.83, 0.83, 0.83, 0.83],
    sliver]
area_P_lar = [
    [0, 0, 0.02, 0.04, 0.06, 0.09, 0.12, 0.16, 0.20, 0.24, 0.28,
     0.30, 0.29, 0.32, 0.36, 0.40, 0.42, 0.31, 0.33, 0.36, 0.38],
    [0, 0.01, 0.03, 0.055, 0.075, 0.105, 0.135, 0.175, 0.215, 0.255, 0.295,
     0.315, 0.305, 0.335, 0.375, 0.415, 0.435, 0.325, 0.345, 0.375, 0.395],
    [0.01, 0.08, 0.15, 0.20, 0.25, 0.30, 0.34, 0.38, 0.42, 0.46, 0.50,
     0.54, 0.50, 0.53, 0.56, 0.58, 0.60, 0.48, 0.53, 0.58, 0.62],
    [0.04, 0.30, 0.42, 0.48, 0.52, 0.55, 0.60, 0.64, 0.68, 0.70, 0.72,
     0.74, 0.75, 0.76, 0.77, 0.78, 0.79, 0.79, 0.80, 0.80, 0.80],
    [1.0, 0.97, 0.92, 0.87, 0.83, 0.81, 0.80, 0.80, 0.80, 0.80, 0.80,
     0.80, 0.81, 0.81, 0.82, 0.82, 0.82, 0.82, 0.83, 0.83, 0.83],
    sliver]

lar_nos = (cases_lar_nos, severe_lar_nos, area_lar_nos)
# (section, row, column, HAR panel, LAR panel)
blocks = [
    (0, 0, 0, (cases_A_har, severe_A_har, area_A_har), lar_nos),
    (0, 0, 1, (cases_B_har, severe_B_har, area_B), (cases_B_lar, severe_B_lar, area_B)),
    (0, 0, 2, (cases_C_har, severe_C_har, area_C_har), lar_nos),
    (0, 0, 3, (cases_D_har, severe_D_har, area_D), (cases_D_lar, severe_D_lar, area_D)),
    (0, 1, 0, (cases_E_har, severe_E_har, area_E_har), lar_nos),
    (0, 1, 1, (cases_F_har, severe_F_har, area_F), (cases_F_lar, severe_F_lar, area_F)),
    (0, 1, 2, (cases_G_har, severe_G_har, area_G_har), lar_nos),
    (0, 1, 3, (cases_H_har, severe_H_har, area_H), (cases_H_lar, severe_H_lar, area_H)),
    (1, 0, 0, (cases_I_har, severe_I_har, area_I_har), lar_nos),
    (1, 0, 1, (cases_J_har, severe_J_har, area_J_har), (cases_J_lar, severe_J_lar, area_J_lar)),
    (1, 0, 2, (cases_K_har, severe_K_har, area_K_har), lar_nos),
    (1, 0, 3, (cases_L_har, severe_L_har, area_L), (cases_L_lar, severe_L_lar, area_L)),
    (1, 1, 0, (cases_M_har, severe_M_har, area_M_har), lar_nos),
    (1, 1, 1, (cases_N_har, severe_N_har, area_N_har), (cases_N_lar, severe_N_lar, area_N_lar)),
    (1, 1, 2, (cases_O_har, severe_O_har, area_O_har), lar_nos),
    (1, 1, 3, (cases_P_har, severe_P_har, area_P_har), (cases_P_lar, severe_P_lar, area_P_lar)),
]

# ---------------------------------------------------------------- style
sns.set_theme(style="ticks")
plt.rcParams["font.family"] = ["Liberation Sans", "DejaVu Sans"]

layer_colors = ["#ffe400", "#ff8000", "#b4a7d6", "#5b5197"]
grey_col = "#bebebe"
dkgreen_col = "#4b7d31"
ltgreen_col = "#58c83a"
infect_col = "#e2457c"
tick_grey = "#4d4d4d"

W, H = 760, 1011
fig = plt.figure(figsize=(7.6, 10.11), dpi=100)


def box(left, top, width, height):
    return [left / W, 1 - (top + height) / H, width / W, height / H]


def ftext(x, y, s, **kw):
    fig.text(x / W, 1 - y / H, s, ha="center", va="center", **kw)


def style_ticks(ax, color):
    ax.tick_params(axis="both", length=2.2, width=0.6, pad=1.2,
                   labelsize=6.7, color="#333333", labelcolor=color)


def fill(ax, lo, hi, color, lw=0.3):
    ax.fill_between(years, lo, hi, facecolor=color, edgecolor=color,
                    linewidth=lw)


har_left = [43.7, 226.0, 426.7, 609.3]
pw, top_h, area_h, gap = 46.7, 40.6, 102.7, 46.4

for sec in range(2):
    ftext(380, 18 + 515.5 * sec, section_titles[sec], fontsize=11.5,
          fontweight="bold")
    ftext(190, 53 + 515.5 * sec, policy_titles[0], fontsize=9.5, fontweight="bold")
    ftext(572, 53 + 515.5 * sec, policy_titles[1], fontsize=9.5, fontweight="bold")

for sec, row, col, har, lar in blocks:
    top = 121.6 + 515.5 * sec + 193 * row
    centre = har_left[col] + (53 + pw) / 2
    if row == 0:
        ftext(centre, top - 28.6, sharing_titles[col], fontsize=8)
    ftext(centre, top + gap + area_h + 20.3, "Time (years)", fontsize=8.2)

    for k, (cases, severe, area) in enumerate([har, lar]):
        left = har_left[col] + 53 * k
        ftext(left + pw / 2, top - 8.6, regions[k], fontsize=6.5, color="#1a1a1a")

        # severe axis (drawn underneath)
        ax_s = fig.add_axes(box(left, top, pw, top_h))
        for x in year_ticks:
            ax_s.axvline(x, color="#a6a6a6", lw=0.8, ls=(0, (3, 2.5)), zorder=0)
        sns.lineplot(x=years, y=severe, ax=ax_s, color="black", linewidth=0.7)
        ax_s.set_xlim(1, 5)
        ax_s.set_ylim(-0.000625, 0.01273)
        ax_s.set_xticks([])
        for side in ["top", "left", "bottom"]:
            ax_s.spines[side].set_visible(False)
        if k == 1:
            ax_s.yaxis.tick_right()
            ax_s.set_yticks(severe_ticks)
            ax_s.yaxis.set_major_formatter(FormatStrFormatter("%.4f"))
            ax_s.spines["right"].set_linewidth(0.7)
            ax_s.spines["right"].set_color("black")
            style_ticks(ax_s, tick_grey)
            ax_s.tick_params(labelsize=6.2)
            ftext(left + pw + 38, top + top_h / 2, "Severe", fontsize=8.2,
                  rotation=-90)
        else:
            ax_s.set_yticks([])
            ax_s.spines["right"].set_visible(False)

        # cases axis (on top)
        ax_c = fig.add_axes(box(left, top, pw, top_h))
        ax_c.patch.set_visible(False)
        sns.lineplot(x=years, y=cases, ax=ax_c, color="#ff0000", linewidth=1.0,
                     alpha=0.9)
        ax_c.set_xlim(1, 5)
        ax_c.set_ylim(-0.0031, 0.0628)
        ax_c.set_xticks([])
        ax_c.spines["top"].set_visible(False)
        ax_c.spines["right"].set_visible(False)
        ax_c.spines["bottom"].set_linewidth(0.7)
        ax_c.spines["bottom"].set_color("black")
        if k == 0:
            ax_c.set_yticks(cases_ticks)
            ax_c.yaxis.set_major_formatter(FormatStrFormatter("%.2f"))
            ax_c.spines["left"].set_linewidth(0.7)
            ax_c.spines["left"].set_color("black")
            style_ticks(ax_c, "#ff0000")
            ftext(left - 32, top + top_h / 2, "Cases", fontsize=8.2,
                  color="#ff0000", rotation=90)
        else:
            ax_c.set_yticks([])
            ax_c.spines["left"].set_visible(False)

        # population fractions
        yel, ora, lav, pur, dkg, ltg = area
        ax_a = fig.add_axes(box(left, top + gap, pw, area_h))
        lows = [zeros, yel, ora, lav]
        highs = [yel, ora, lav, pur]
        for lo, hi, c in zip(lows, highs, layer_colors):
            fill(ax_a, lo, hi, c)
        fill(ax_a, pur, dkg, grey_col)
        fill(ax_a, dkg, ltg, dkgreen_col)
        fill(ax_a, ltg, no_green, ltgreen_col)
        ax_a.plot(years, dkg, color="#e6e6e6", lw=0.6)
        fill(ax_a, zeros, cases, infect_col, lw=0)
        ax_a.set_xlim(1, 5)
        ax_a.set_ylim(-0.05, 1.05)
        ax_a.set_xticks(year_ticks)
        ax_a.spines["top"].set_visible(False)
        ax_a.spines["right"].set_visible(False)
        ax_a.spines["bottom"].set_linewidth(0.7)
        ax_a.spines["bottom"].set_color("black")
        style_ticks(ax_a, tick_grey)
        if k == 0:
            ax_a.set_yticks(frac_ticks)
            ax_a.yaxis.set_major_formatter(FormatStrFormatter("%.2f"))
            ax_a.spines["left"].set_linewidth(0.7)
            ax_a.spines["left"].set_color("black")
            ftext(left - 32, top + gap + area_h / 2, "Fraction of population",
                  fontsize=8.2, rotation=90)
        else:
            ax_a.set_yticks([])
            ax_a.spines["left"].set_visible(False)

fig.savefig("out.png", dpi=100)
